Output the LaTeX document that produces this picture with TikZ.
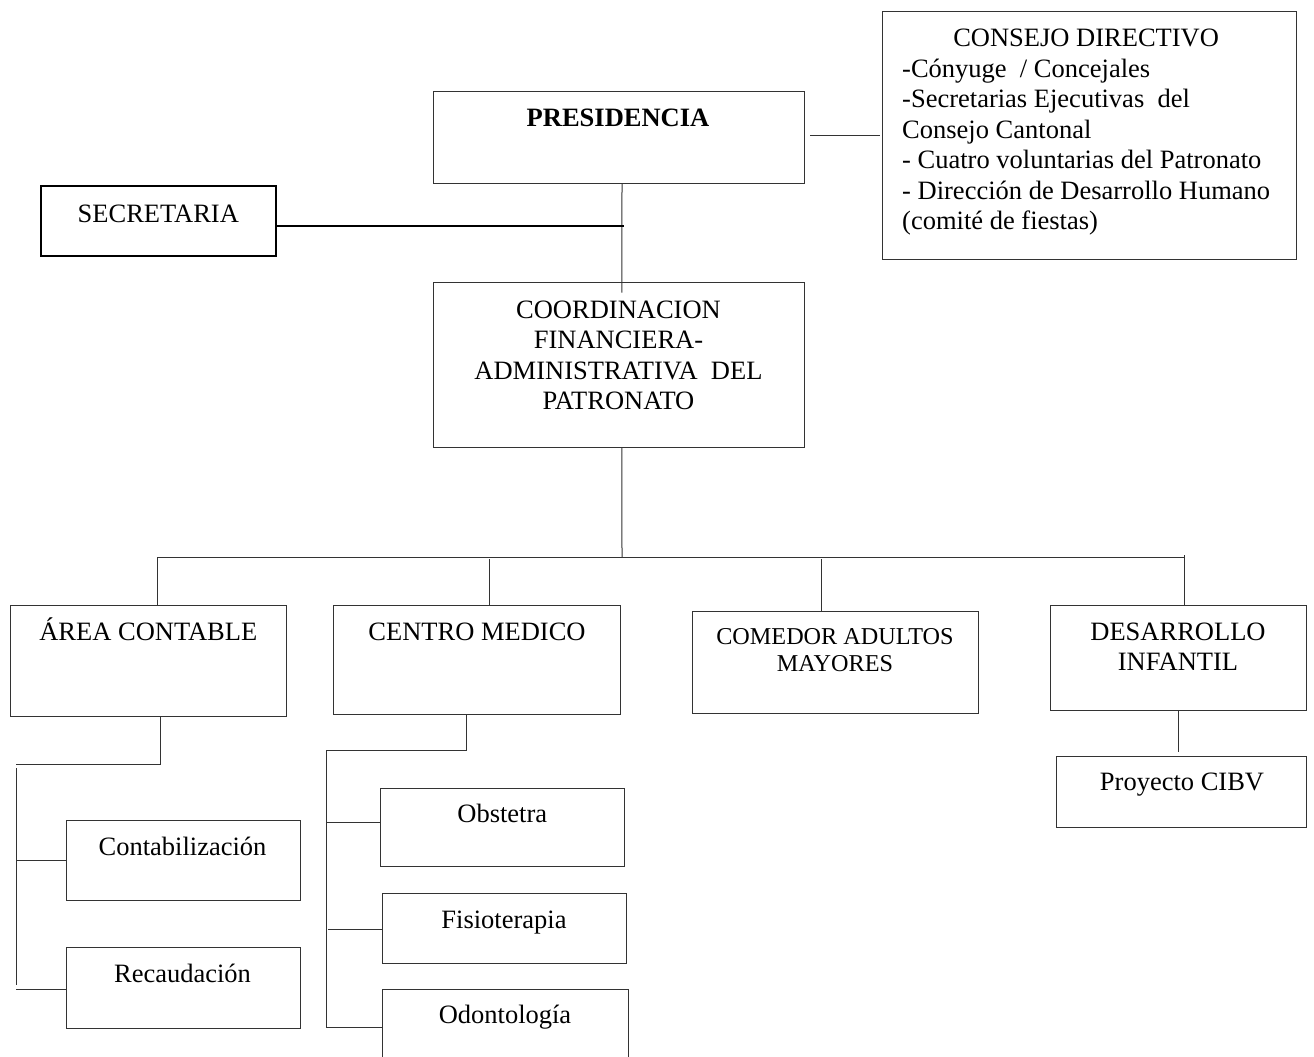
\documentclass[tikz,border=0pt]{standalone}
\usepackage{fontspec}
\setmainfont{Liberation Serif}
\usetikzlibrary{calc}
\begin{document}
\begin{tikzpicture}[x=1pt,y=-1pt,
  box/.style={draw=black!80, line width=1pt, rectangle, inner sep=0pt, outer sep=0pt},
  thickbox/.style={draw=black, line width=2pt, rectangle, inner sep=0pt, outer sep=0pt},
  ln/.style={draw=black!80, line width=1pt},
  thickln/.style={draw=black, line width=2pt},
  txt/.style={inner sep=0pt, anchor=base, font=\fontsize{26.5}{30.5}\selectfont},
  btxt/.style={inner sep=0pt, anchor=base, font=\fontsize{26.5}{30.5}\selectfont\bfseries},
  stxt/.style={inner sep=0pt, anchor=base, font=\fontsize{24.2}{27.4}\selectfont}]
\useasboundingbox (0,0) rectangle (1314,1057);
\clip (0,0) rectangle (1314,1057);
\fill[white] (0,0) rectangle (1314,1057);

% boxes
\node[box, minimum width=371pt, minimum height=92pt] (pres) at (619,137) {};
\node[box, minimum width=414.5pt, minimum height=248.3pt] (cons) at (1089.7,135.8) {};
\node[thickbox, minimum width=234.7pt, minimum height=70pt] (sec) at (158.4,221) {};
\node[box, minimum width=370.8pt, minimum height=165pt] (coord) at (618.9,365.2) {};
\node[box, minimum width=275.7pt, minimum height=111.7pt] (area) at (148.35,660.85) {};
\node[box, minimum width=286.2pt, minimum height=109pt] (centro) at (476.9,660.2) {};
\node[box, minimum width=286.3pt, minimum height=102.4pt] (comedor) at (835.15,662.5) {};
\node[box, minimum width=256.6pt, minimum height=104.6pt] (desa) at (1178.3,658) {};
\node[box, minimum width=250.6pt, minimum height=70.6pt] (cibv) at (1181.3,792) {};
\node[box, minimum width=234pt, minimum height=80pt] (conta) at (183,860) {};
\node[box, minimum width=234pt, minimum height=80.6pt] (reca) at (183,988) {};
\node[box, minimum width=244.2pt, minimum height=78pt] (obst) at (502.1,827) {};
\node[box, minimum width=244.1pt, minimum height=70pt] (fisio) at (504.25,928.7) {};
\node[box, minimum width=246.2pt, minimum height=77.4pt] (odon) at (505.3,1028) {};

% texts
\node[btxt] (pres-t) at (618,126.7) {PRESIDENCIA};
\node[txt, anchor=base west] (cons-t) at (902,46.7) {\begin{tabular}[t]{@{}l@{}}\multicolumn{1}{@{}c@{}}{CONSEJO DIRECTIVO}\\-Cónyuge~ / Concejales\\-Secretarias Ejecutivas~ del\\Consejo Cantonal\\- Cuatro voluntarias del Patronato\\- Dirección de Desarrollo Humano\\(comité de fiestas)\end{tabular}};
\node[txt] (sec-t) at (158.3,222.7) {SECRETARIA};
\node[txt] (coord-t) at (618.5,318) {\begin{tabular}[t]{@{}c@{}}COORDINACION\\FINANCIERA-\\ADMINISTRATIVA~ DEL\\PATRONATO\end{tabular}};
\node[txt] (area-t) at (148.3,640.7) {ÁREA CONTABLE};
\node[txt] (centro-t) at (477,640.7) {CENTRO MEDICO};
\node[stxt] (comedor-t) at (835,644.3) {\begin{tabular}[t]{@{}c@{}}COMEDOR ADULTOS\\MAYORES\end{tabular}};
\node[txt] (desa-t) at (1178,640) {\begin{tabular}[t]{@{}c@{}}DESARROLLO\\INFANTIL\end{tabular}};
\node[txt] (cibv-t) at (1182,790.7) {Proyecto CIBV};
\node[txt] (conta-t) at (182.5,855) {Contabilización};
\node[txt] (reca-t) at (182.5,982.7) {Recaudación};
\node[txt] (obst-t) at (502.3,822.7) {Obstetra};
\node[txt] (fisio-t) at (504,928.3) {Fisioterapia};
\node[txt] (odon-t) at (505,1023.3) {Odontología};

% connectors top
\draw[ln] ($(pres.east |- cons.west)+(5.5,0)$) -- ($(cons.west)+(-2.5,0)$);
\draw[ln] ([xshift=3pt]pres.south) -- ([xshift=3pt,yshift=-10pt]coord.north);
\coordinate (jsec) at (624,226);
\draw[thickln] ([yshift=-5pt]sec.east) -- (jsec);

% bus
\coordinate (bus) at (622,557);
\coordinate (bl) at (157.8,557);
\coordinate (br) at (1184.4,557);
\coordinate (bc) at (489,559);
\coordinate (bm) at (821.5,559);
\draw[ln] ([xshift=3pt]coord.south) -- (bus);
\draw[ln] (bl) -- (br);
\draw[ln] (bl) -- (bl |- area.north);
\draw[ln] (bc) -- (bc |- centro.north);
\draw[ln] (bm) -- (bm |- comedor.north);
\draw[ln] ([yshift=2pt]br) -- (br |- desa.north);

% area contable subtree
\coordinate (a1) at (160,764);
\coordinate (a2) at (16,764);
\coordinate (a3) at (16,768.3);
\coordinate (a4) at (16,985.3);
\coordinate (a5) at (16,989.3);
\draw[ln] (area.south -| a1) -- (a1) -- (a2);
\draw[ln] (a3) -- (a4);
\draw[ln] (a2 |- conta.west) -- (conta.west);
\draw[ln] (a5) -- (a5 -| reca.west);

% centro medico subtree
\coordinate (c1) at (466,750.7);
\coordinate (c2) at (326.2,750.7);
\coordinate (c3) at (326.2,1027.7);
\coordinate (c4) at (326.2,822);
\coordinate (c5) at (328.3,929);
\draw[ln] (centro.south -| c1) -- (c1) -- (c2) -- (c3) -- (c3 -| odon.west);
\draw[ln] (c4) -- (c4 -| obst.west);
\draw[ln] (c5) -- (c5 -| fisio.west);

% desarrollo infantil
\draw[ln] (desa.south) -- ($(desa.south |- cibv.north)+(0,-4.4)$);
\end{tikzpicture}
\end{document}
